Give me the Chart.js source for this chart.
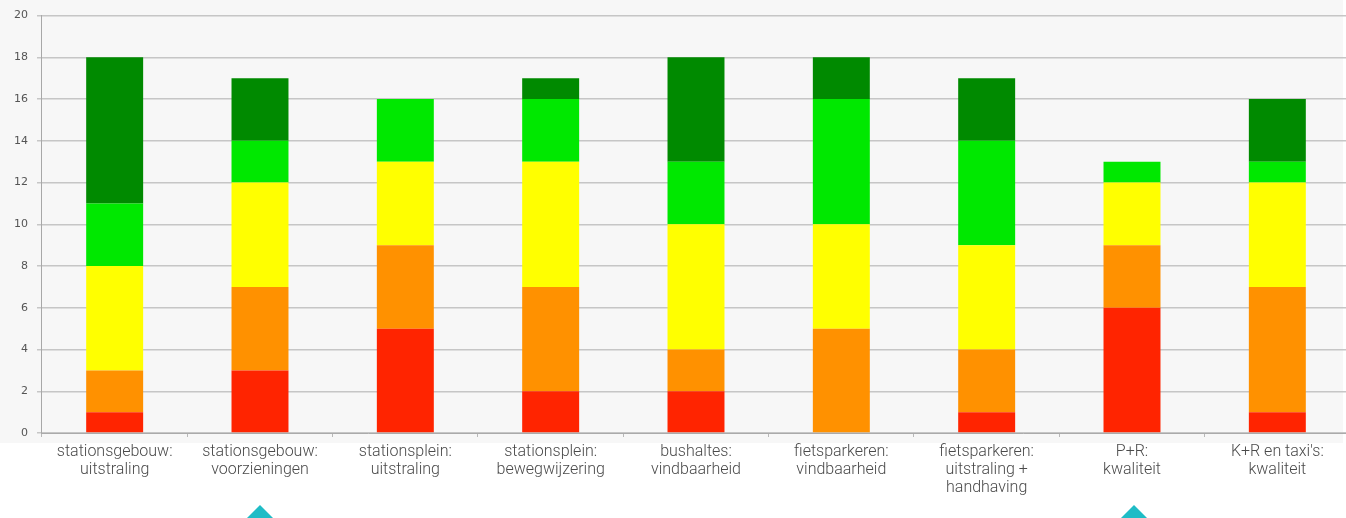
<!DOCTYPE html>
<html>
<head>
<meta charset="utf-8">
<script src="https://cdn.jsdelivr.net/npm/chart.js@4/dist/chart.umd.min.js"></script>
<style>
  html, body { margin: 0; padding: 0; background: #ffffff; overflow: hidden; }
  #wrap { position: relative; width: 1346px; height: 518px; overflow: hidden; }
  #panel { position: absolute; left: 0; top: 0; width: 1343px; height: 443px; background: #f7f7f7; }
  #box { position: absolute; left: 0; top: 0; width: 1352px; height: 518px; }
  .marker { position: absolute; width: 0; height: 0; border-left: 14px solid transparent; border-right: 14px solid transparent; border-bottom: 14px solid #1fbcc6; top: 505px; }
</style>
</head>
<body>
<div id="wrap">
  <div id="panel"></div>
  <div id="box"><canvas id="c" width="1352" height="518"></canvas></div>
  <div class="marker" style="left:246px"></div>
  <div class="marker" style="left:1120px"></div>
</div>
<script>
// Beoordelingen per onderdeel, gestapeld van slecht (rood) naar goed (donkergroen)
const categories = [
  ["stationsgebouw:", "uitstraling"],
  ["stationsgebouw:", "voorzieningen"],
  ["stationsplein:", "uitstraling"],
  ["stationsplein:", "bewegwijzering"],
  ["bushaltes:", "vindbaarheid"],
  ["fietsparkeren:", "vindbaarheid"],
  ["fietsparkeren:", "uitstraling +", "handhaving"],
  ["P+R:", "kwaliteit"],
  ["K+R en taxi's:", "kwaliteit"]
];
const rood       = [1, 3, 5, 2, 2, 0, 1, 6, 1];
const oranje     = [2, 4, 4, 5, 2, 5, 3, 3, 6];
const geel       = [5, 5, 4, 6, 6, 5, 5, 3, 5];
const lichtgroen = [3, 2, 3, 3, 3, 6, 5, 1, 1];
const donkergroen= [7, 3, 0, 1, 5, 2, 3, 0, 3];
const yTicks = [0, 2, 4, 6, 8, 10, 12, 14, 16, 18, 20];

const series = [
  { label: "rood", data: rood, color: "#ff2400" },
  { label: "oranje", data: oranje, color: "#ff9100" },
  { label: "geel", data: geel, color: "#ffff00" },
  { label: "lichtgroen", data: lichtgroen, color: "#00e800" },
  { label: "donkergroen", data: donkergroen, color: "#008a00" }
];

new Chart(document.getElementById("c"), {
  type: "bar",
  data: {
    labels: categories,
    datasets: series.map(s => ({
      label: s.label,
      data: s.data,
      backgroundColor: s.color,
      borderWidth: 0,
      categoryPercentage: 1,
      barPercentage: 0.392
    }))
  },
  options: {
    responsive: false,
    animation: false,
    layout: { padding: { left: 5, right: 2, top: 15, bottom: 0 } },
    plugins: { legend: { display: false }, tooltip: { enabled: false } },
    scales: {
      x: {
        stacked: true,
        afterFit: s => { s.height = 85; },
        grid: { display: true, drawOnChartArea: false, drawTicks: true, tickLength: 4, color: "#b8b8b8", offset: true },
        border: { color: "#aaaaaa", width: 1 },
        ticks: {
          color: "#4a4a4a",
          padding: 6,
          maxRotation: 0,
          autoSkip: false,
          font: { family: "Roboto", size: 16, weight: 300, lineHeight: 1.13 }
        }
      },
      y: {
        stacked: true,
        min: 0,
        max: 20,
        afterBuildTicks: s => { s.ticks = yTicks.map(v => ({ value: v })); },
        grid: { color: "#c6c6c6", lineWidth: 1.5, drawTicks: true, tickLength: 5 },
        border: { color: "#a8a8a8", width: 1 },
        ticks: {
          color: "#555555",
          padding: 9,
          font: { family: "DejaVu Sans", size: 11 }
        }
      }
    }
  }
});
</script>
</body>
</html>
